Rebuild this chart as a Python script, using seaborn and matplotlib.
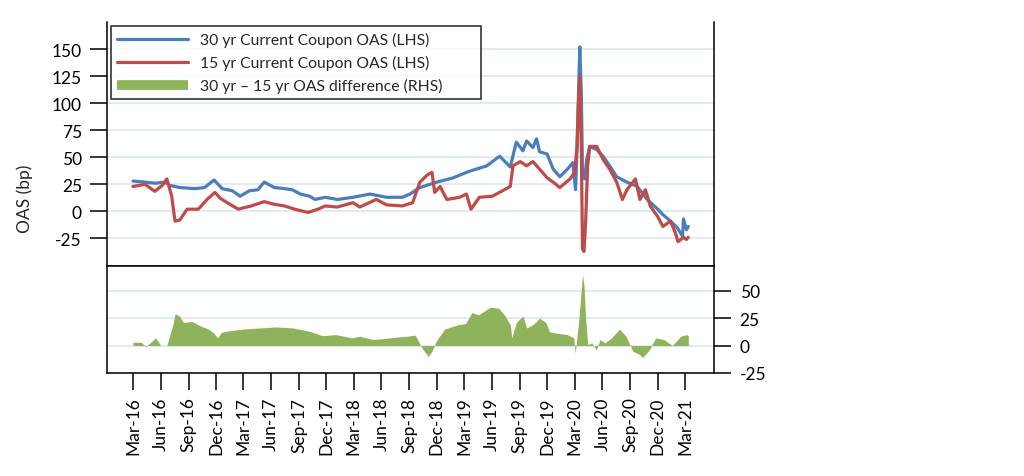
import matplotlib
matplotlib.use("Agg")
import matplotlib.pyplot as plt
import matplotlib.dates as mdates
from matplotlib.lines import Line2D
import seaborn as sns
import pandas as pd

# ---------------- data ----------------
dates_30 = ["2016-03-01", "2016-04-10", "2016-05-12", "2016-06-15", "2016-07-01", "2016-08-03",
            "2016-09-21", "2016-10-24", "2016-11-24", "2016-12-21", "2017-01-24", "2017-02-18",
            "2017-03-21", "2017-04-18", "2017-05-09", "2017-06-12", "2017-07-15", "2017-08-09",
            "2017-09-06", "2017-10-06", "2017-10-24", "2017-11-27", "2018-01-06", "2018-02-27",
            "2018-04-24", "2018-06-18", "2018-08-09", "2018-09-03", "2018-10-06", "2018-12-01",
            "2019-01-24", "2019-03-18", "2019-05-15", "2019-06-27", "2019-08-01", "2019-08-21",
            "2019-09-12", "2019-09-24", "2019-10-15", "2019-10-27", "2019-11-06", "2019-12-01",
            "2019-12-21", "2020-01-12", "2020-02-06", "2020-02-24", "2020-03-04", "2020-03-09",
            "2020-03-13", "2020-03-18", "2020-03-23", "2020-03-27", "2020-04-03", "2020-04-10",
            "2020-04-20", "2020-05-13", "2020-06-03", "2020-06-25", "2020-07-18", "2020-08-21",
            "2020-09-24", "2020-10-27", "2020-12-01", "2020-12-18", "2021-01-12", "2021-02-03",
            "2021-02-21", "2021-02-24", "2021-03-06", "2021-03-12"]
oas_30 = [28, 27, 26, 27, 24, 22,
          21, 22, 29, 21, 19, 14,
          19, 20, 27, 22, 21, 20,
          16, 14, 11, 13, 11, 13,
          16, 13, 13, 16, 22, 27,
          31, 37, 42, 51, 41, 64,
          56, 65, 59, 67, 55, 53,
          39, 32, 39, 45, 20, 60,
          100, 152, 110, 35, 30, 48,
          60, 57, 51, 42, 32, 27,
          23, 11, 2, -3, -9, -15,
          -23, -7, -17, -14]

dates_15 = ["2016-03-01", "2016-04-10", "2016-05-12", "2016-06-06", "2016-06-21", "2016-07-07",
            "2016-07-18", "2016-08-03", "2016-08-27", "2016-10-03", "2016-11-01", "2016-11-27",
            "2016-12-15", "2017-01-01", "2017-02-12", "2017-03-27", "2017-05-09", "2017-06-12",
            "2017-07-15", "2017-08-18", "2017-10-01", "2017-11-03", "2017-11-27", "2018-01-06",
            "2018-02-27", "2018-03-21", "2018-05-15", "2018-06-18", "2018-08-09", "2018-09-12",
            "2018-10-06", "2018-11-01", "2018-11-15", "2018-11-24", "2018-12-12", "2019-01-03",
            "2019-02-15", "2019-03-09", "2019-03-24", "2019-04-21", "2019-06-03", "2019-07-06",
            "2019-08-01", "2019-08-10", "2019-09-03", "2019-09-24", "2019-10-15", "2019-11-06",
            "2019-12-01", "2019-12-21", "2020-01-12", "2020-02-15", "2020-03-01", "2020-03-09",
            "2020-03-13", "2020-03-18", "2020-03-23", "2020-03-27", "2020-04-01", "2020-04-06",
            "2020-04-13", "2020-04-20", "2020-05-13", "2020-06-03", "2020-06-25", "2020-07-18",
            "2020-08-06", "2020-08-21", "2020-09-18", "2020-10-03", "2020-10-21", "2020-11-06",
            "2020-12-01", "2020-12-18", "2021-01-12", "2021-01-27", "2021-02-06", "2021-02-24",
            "2021-03-06", "2021-03-12"]
oas_15 = [23, 25, 18.5, 24, 30, 14,
          -9, -8, 2, 2, 11, 17.5,
          12, 9, 2, 5, 9, 6.5,
          5, 2, -1, 2, 5, 4,
          8, 4, 11, 6, 5, 8,
          27, 34, 36, 17.5, 23, 11,
          13, 16, 2, 13, 14, 19,
          23, 42, 46, 42, 46, 39,
          31, 27, 22, 30, 36, 60,
          97, 124, 60, -35, -37, -12,
          42, 60, 60, 48, 39, 27,
          11, 20, 30, 11, 20, 5,
          -5, -14, -9, -19, -28, -24,
          -26, -24]

dates_diff = ["2016-03-01", "2016-03-28", "2016-04-12", "2016-05-03", "2016-05-15", "2016-06-01",
              "2016-06-21", "2016-07-01", "2016-07-11", "2016-07-18", "2016-08-01", "2016-08-15",
              "2016-09-12", "2016-10-09", "2016-11-06", "2016-11-21", "2016-12-06", "2016-12-18",
              "2017-01-03", "2017-02-27", "2017-04-21", "2017-06-18", "2017-08-12", "2017-10-06",
              "2017-11-18", "2018-01-01", "2018-02-24", "2018-03-21", "2018-05-03", "2018-06-15",
              "2018-07-12", "2018-08-24", "2018-09-21", "2018-10-12", "2018-11-03", "2018-11-15",
              "2018-12-01", "2018-12-27", "2019-02-09", "2019-03-06", "2019-03-27", "2019-04-18",
              "2019-05-27", "2019-06-24", "2019-07-15", "2019-08-01", "2019-08-06", "2019-08-21",
              "2019-09-12", "2019-09-24", "2019-10-15", "2019-11-06", "2019-11-27", "2019-12-09",
              "2020-01-09", "2020-02-06", "2020-02-27", "2020-03-03", "2020-03-15", "2020-03-27",
              "2020-04-01", "2020-04-06", "2020-04-13", "2020-04-27", "2020-05-12", "2020-05-24",
              "2020-06-09", "2020-07-01", "2020-07-27", "2020-08-18", "2020-09-09", "2020-10-01",
              "2020-10-12", "2020-11-03", "2020-11-24", "2020-12-21", "2021-01-18", "2021-02-15",
              "2021-03-06", "2021-03-12"]
oas_diff = [3, 3, -1, 4, 7, 0,
            0, 10, 19, 29, 27, 21,
            22, 18, 15, 12, 7, 12,
            13, 15, 16, 17, 16, 13,
            9, 10, 7, 8.5, 5.5, 6.5,
            7.5, 8.5, 9.5, -2, -10, -5,
            5, 15, 19, 20, 30, 28,
            35, 34, 27, 19, 7, 21,
            27, 16, 19, 25, 21, 12.5,
            11, 10, 7, -7, 24, 65,
            54, 27, 1, 2.4, -4, 5.5,
            2.4, 7, 15, 8.5, -5, -8,
            -11, -4, 7, 5.5, 0, 8.5,
            10, 9]

left_ticks = [-25, 0, 25, 50, 75, 100, 125, 150]
right_ticks = [-25, 0, 25, 50]
label_30 = "30 yr Current Coupon OAS (LHS)"
label_15 = "15 yr Current Coupon OAS (LHS)"
label_diff = "30 yr \u2013 15 yr OAS difference (RHS)"

BLUE = "#4a7ebb"
RED = "#be4b48"
GREEN = "#8fb35a"
GRID = "#dde9f5"

df30 = pd.DataFrame({"date": pd.to_datetime(dates_30), "oas": oas_30})
df15 = pd.DataFrame({"date": pd.to_datetime(dates_15), "oas": oas_15})
dfd = pd.DataFrame({"date": pd.to_datetime(dates_diff), "oas": oas_diff})

# ---------------- style ----------------
sns.set_theme(style="white")
plt.rcParams["font.family"] = ["Lato", "DejaVu Sans"]
plt.rcParams["axes.linewidth"] = 1.1
plt.rcParams["axes.edgecolor"] = "black"
plt.rcParams["axes.unicode_minus"] = False

fig = plt.figure(figsize=(10.24, 4.77), dpi=100)
L, W = 107 / 1024, (714 - 107) / 1024
ax1 = fig.add_axes([L, 1 - 267 / 477, W, (267 - 23) / 477])
ax2 = fig.add_axes([L, 1 - 374 / 477, W, (374 - 267) / 477])

xmin, xmax = pd.Timestamp("2015-12-06"), pd.Timestamp("2021-06-05")

# top panel
sns.lineplot(data=df30, x="date", y="oas", ax=ax1, color=BLUE, linewidth=2.3, legend=False)
sns.lineplot(data=df15, x="date", y="oas", ax=ax1, color=RED, linewidth=2.3, legend=False)
ax1.set_xlim(xmin, xmax)
ax1.set_ylim(-50.5, 175)
ax1.set_yticks(left_ticks)
ax1.set_xticks([])
for t in left_ticks:
    ax1.axhline(t, color=GRID, linewidth=1.3, zorder=0)
ax1.spines["top"].set_visible(False)
ax1.tick_params(axis="y", direction="out", length=12, width=1.1, labelsize=12.5, pad=6, left=True, colors="black")
ax1.set_xlabel("")
ax1.set_ylabel("OAS (bp)", fontsize=12.5)
ax1.yaxis.set_label_coords(-0.122, 0.28)

handles = [Line2D([], [], color=BLUE, lw=2.3), Line2D([], [], color=RED, lw=2.3),
           Line2D([], [], color=GREEN, lw=7, solid_capstyle="butt")]
leg = ax1.legend(handles, [label_30, label_15, label_diff], loc="upper left",
                 bbox_to_anchor=(0.0066, 0.5, 0.6096, 0.484), mode="expand", borderaxespad=0,
                 fontsize=11.3, handlelength=4.5, handletextpad=0.8, labelspacing=0.5,
                 frameon=True, fancybox=False, edgecolor="black", borderpad=0.4)
leg.get_frame().set_linewidth(1.2)

# bottom panel
ax2.fill_between(dfd["date"], dfd["oas"], 0, color=GREEN, linewidth=0, zorder=2)
ax2.set_xlim(xmin, xmax)
ax2.set_ylim(-25, 72.5)
ax2.yaxis.tick_right()
ax2.set_yticks(right_ticks)
for t in right_ticks:
    ax2.axhline(t, color=GRID, linewidth=1.3, zorder=0)
ax2.tick_params(axis="y", direction="out", length=12, width=1.1, labelsize=12.5, pad=6.5, right=True, left=False, colors="black")
ticks = pd.date_range("2016-03-01", "2021-03-01", freq="3MS")
ax2.set_xticks(ticks)
ax2.xaxis.set_major_formatter(mdates.DateFormatter("%b-%y"))
ax2.tick_params(axis="x", direction="out", length=12, width=1.1, labelsize=12.5, pad=5, rotation=90, bottom=True, colors="black")
ax2.set_ylabel("")
ax2.set_xlabel("")

fig.savefig("out.png", dpi=100)
